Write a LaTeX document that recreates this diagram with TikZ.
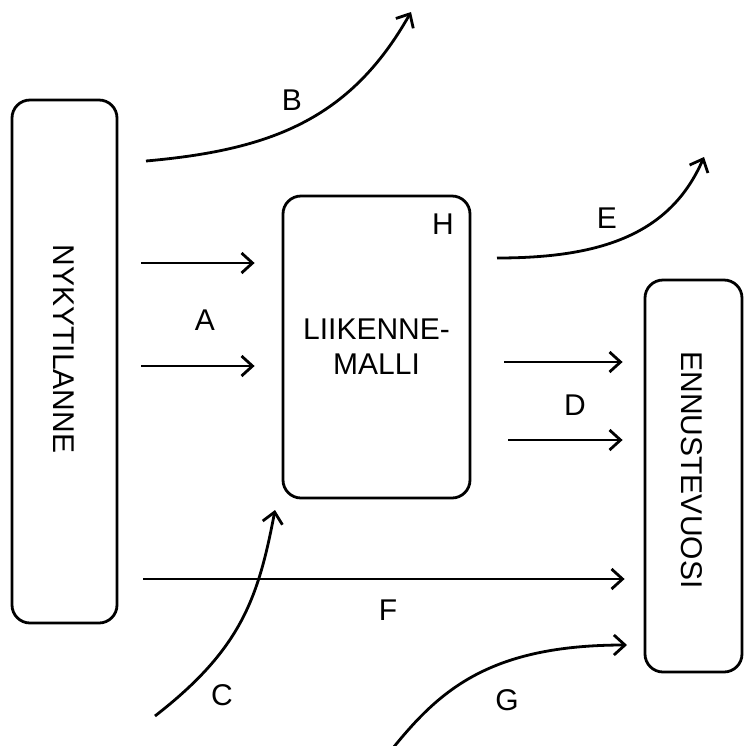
\documentclass[tikz,border=0pt]{standalone}
\usepackage{fontspec}
\setmainfont{Liberation Sans}
\usetikzlibrary{arrows.meta}

\begin{document}
\begin{tikzpicture}[x=0.5pt, y=-0.5pt,
    font=\fontsize{15}{17.5}\selectfont,
    box/.style={draw, line width=1.4pt, rounded corners=9pt, inner sep=0pt},
    flow/.style={line width=1.4pt,
      -{Straight Barb[length=5.5pt,width=10pt,line width=1.4pt]}}]
  \useasboundingbox (0,0) rectangle (745,746);

  % the three boxes
  \node[box, minimum width=52.5pt, minimum height=261.5pt] (nyky) at (64.5,361.5) {};
  \node[rotate=-90] (nykytxt) at (64,349) {NYKYTILANNE};
  \node[box, minimum width=93.5pt, minimum height=151pt, align=center]
        (malli) at (376.5,347) {LIIKENNE-\\MALLI};
  \node[box, minimum width=48.5pt, minimum height=196pt] (ennu) at (693.5,476) {};
  \node[rotate=-90] (ennutxt) at (692,470) {ENNUSTEVUOSI};

  % straight arrows
  \draw[flow, shorten <=11.5pt, shorten >=13.5pt]
        (nyky.east |- 0,263) -- (malli.west |- 0,263);
  \draw[flow, shorten <=11.5pt, shorten >=13.5pt]
        (nyky.east |- 0,366) -- (malli.west |- 0,366);
  \draw[flow, shorten <=16.5pt, shorten >=10.5pt]
        (malli.east |- 0,362) -- (ennu.west |- 0,362);
  \draw[flow, shorten <=18.5pt, shorten >=10.5pt]
        (malli.east |- 0,440) -- (ennu.west |- 0,440);
  \draw[flow, shorten <=12.5pt, shorten >=9.5pt]
        (nyky.east |- 0,579) -- (ennu.west |- 0,579);

  % curved arrows
  \coordinate (b0) at (146,161);
  \coordinate (b1) at (411,12);
  \coordinate (e0) at (497,258);
  \coordinate (e1) at (704,157);
  \coordinate (c0) at (155,716);
  \coordinate (c1) at (275,510);
  \coordinate (g0) at (393,748);
  \coordinate (g1) at (627,645);
  \draw[flow] (b0) .. controls (270,150) and (350,120) .. (b1);
  \draw[flow] (e0) .. controls (600,258) and (670,235) .. (e1);
  \draw[flow] (c0) .. controls (240,650) and (258,600) .. (c1);
  \draw[flow] (g0) .. controls (440,690) and (490,645) .. (g1);

  % letters
  \node (lblA) at (205,320) {A};
  \node (lblB) at (292,100) {B};
  \node (lblC) at (222,695) {C};
  \node (lblD) at (575,405) {D};
  \node (lblE) at (607,218) {E};
  \node (lblF) at (388,610) {F};
  \node (lblG) at (507,700) {G};
  \node (lblH) at (443,224) {H};
\end{tikzpicture}
\end{document}
